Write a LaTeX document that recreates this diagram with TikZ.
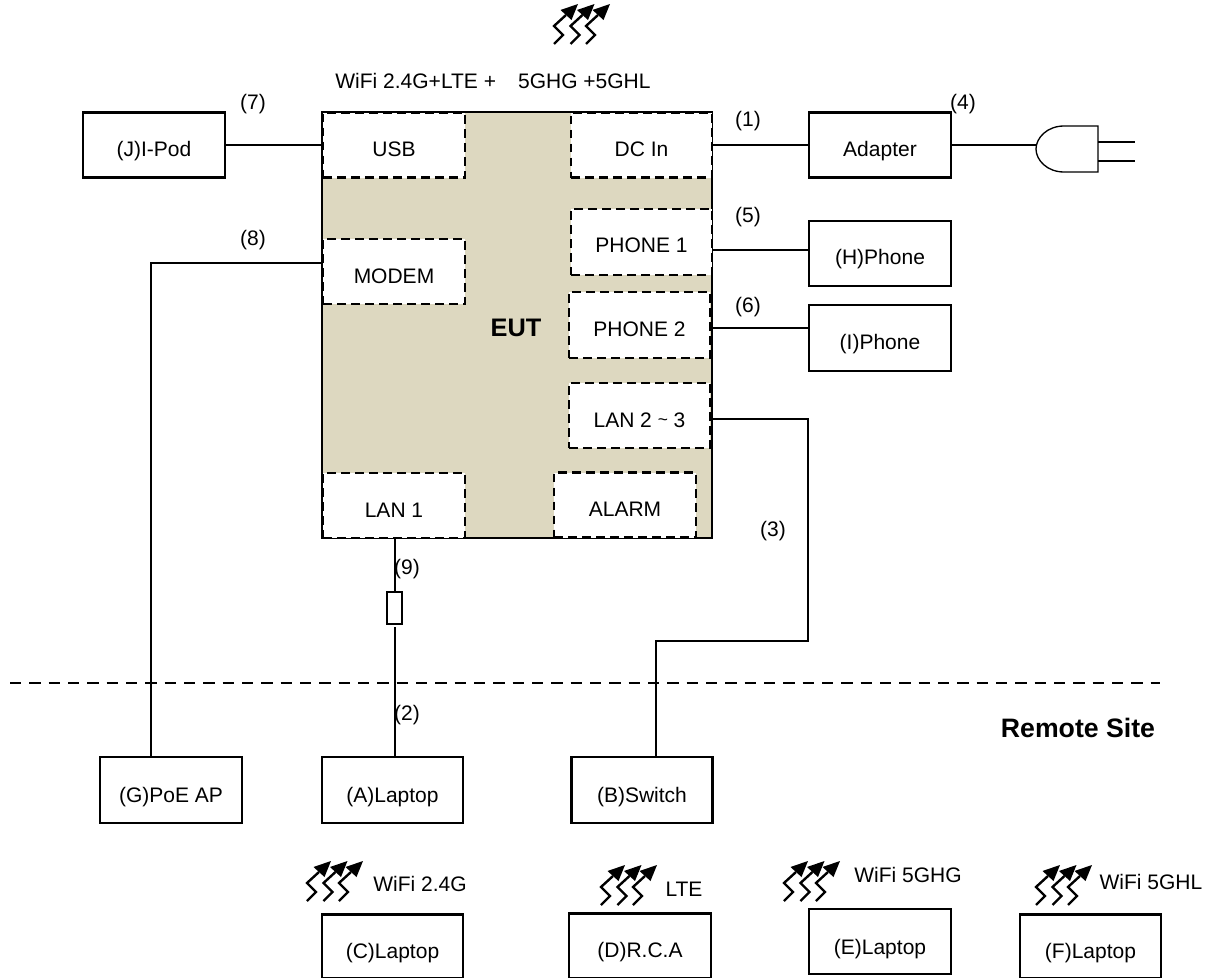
\documentclass[tikz,border=0pt]{standalone}
\usepackage{fontspec}
\setmainfont{Liberation Sans}
\usetikzlibrary{calc}
\newcommand\lowr[2]{\raisebox{-\dimexpr #1pt*3/4\relax}[0pt][0pt]{#2}}
\tikzset{
  sz/.style 2 args={minimum width=#1*0.75pt,minimum height=#2*0.75pt},
  base/.style={inner sep=0pt,outer sep=0pt,align=center,font=\fontsize{15.75}{18}\selectfont},
  solidbox/.style={base,draw=black,line width=1.9pt,fill=white},
  port/.style={base,draw=black,line width=1.6pt,fill=white,dash pattern=on 6.5pt off 4pt},
  lbl/.style={base},
  heavywire/.style={draw=black,line width=1.9pt},
  wire/.style={draw=black,line width=1.5pt},
  lightwire/.style={draw=black,line width=1.2pt},
  thinwire/.style={draw=black,line width=1pt},
  wifisym/.pic={
    \foreach \d in {0,16.5,32}{
      \draw[line width=1.8pt,shift={(\d,0)}] (0,0)--(9,-9)--(0,-18)--(12,-29);
      \fill[shift={(\d,0)}] (24,-40)--(6.5,-34)--(17.5,-24)--cycle;
    }
  }
}
\begin{document}
\begin{tikzpicture}[x=0.75pt,y=-0.75pt]
\useasboundingbox (0,0) rectangle (1215,978);
% main unit
\node[base,draw=black,line width=1.9pt,fill={rgb,255:red,221;green,216;blue,192},sz={390}{426},anchor=north west] (eut) at (322,112) {};
\node[base,font=\fontsize{19}{22}\selectfont\bfseries] (eutl) at (516,328) {EUT};
% ports
\node[port,sz={142}{65}] (usb) at (394,145) {\lowr{11}{USB}};
\node[port,sz={141}{65}] (dc) at (641.5,145) {\lowr{11}{DC In}};
\node[port,sz={142}{65}] (modem) at (394,271.5) {\lowr{11.5}{MODEM}};
\node[port,sz={141}{66}] (ph1) at (641.5,242) {\lowr{10}{PHONE 1}};
\node[port,sz={141}{66}] (ph2) at (639.5,325) {\lowr{11}{PHONE 2}};
\node[port,sz={141}{65}] (lan23) at (639.5,415.5) {\lowr{11.5}{LAN 2 {\fontsize{13}{13}\selectfont\raisebox{1pt}{\textasciitilde}} 3}};
\node[port,sz={142}{65}] (lan1) at (394,505.5) {\lowr{11.5}{LAN 1}};
\node[port,sz={142}{65}] (alarm) at (625,505) {\lowr{11}{ALARM}};
% devices
\node[solidbox,sz={142}{65}] (j) at (154,145) {\lowr{11}{(J)I-Pod}};
\node[solidbox,sz={142}{65}] (adapter) at (880,145) {\lowr{11}{Adapter}};
\node[solidbox,sz={142}{65}] (h) at (880,253.5) {\lowr{10.5}{(H)Phone}};
\node[solidbox,sz={142}{66}] (i) at (880,338) {\lowr{11}{(I)Phone}};
\node[solidbox,sz={142}{66}] (g) at (171,790) {\lowr{12}{(G)PoE AP}};
\node[solidbox,sz={141}{66}] (a) at (392.5,790) {\lowr{12}{(A)Laptop}};
\node[solidbox,sz={141}{66}] (b) at (642,790) {\lowr{12}{(B)Switch}};
\node[solidbox,sz={141}{64.5}] (c) at (392.5,946.5) {\lowr{11.5}{(C)Laptop}};
\node[solidbox,sz={142}{65.5}] (d) at (640,946) {\lowr{11}{(D)R.C.A}};
\node[solidbox,sz={142}{65}] (e) at (880,941.5) {\lowr{12.5}{(E)Laptop}};
\node[solidbox,sz={141}{64.5}] (f) at (1090.5,946.5) {\lowr{11.5}{(F)Laptop}};
% connectors
\draw[heavywire] (j.east) -- (usb.west);
\draw[heavywire] (dc.east) -- (adapter.west);
\coordinate (p1) at (ph1.east |- 0,250);
\draw[wire] (p1) -- (p1 -| h.west);
\coordinate (p2) at (712,328);
\draw[wire] (p2) -- (p2 -| i.west);
\coordinate (m1) at (modem.west |- 0,263);
\coordinate (gt) at (151,0 |- g.north);
\draw[lightwire] (m1) -| (gt);
\coordinate (l2) at (lan23.east |- 0,419);
\coordinate (l3) at (808,641);
\coordinate (bt) at (656,0 |- b.north);
\draw[wire] (l2) -| (l3) -| (bt);
% attenuator
\node[base,draw=black,line width=1.3pt,fill=white,sz={15}{32}] (att) at (394.5,608) {};
\coordinate (lan1b) at (lan1.south -| att.north);
\draw[wire] (lan1b) -- (att.north);
\coordinate (atl) at ($(a.north -| att.south)+(0,-130)$);
\draw[wire] (atl) -- (a.north -| att.south);
% separator
\coordinate (s1) at (10,683);
\coordinate (s2) at (1160,683);
\draw[line width=1.7pt,dash pattern=on 8.5pt off 6pt] (s1) -- (s2);
% plug
\coordinate (pl) at (1036,145);
\draw[thinwire] (adapter.east) -- (pl);
\draw[thinwire] (1098,126) -- (1098,172) -- (1064,172) .. controls (1047,172) and (1036,160) .. (1036,149) .. controls (1036,138) and (1047,126) .. (1064,126) -- cycle;
\coordinate (pr1) at (1098,142); \coordinate (pr1e) at (1135,142);
\coordinate (pr2) at (1098,161); \coordinate (pr2e) at (1135,161);
\draw[thinwire] (pr1) -- (pr1e);
\draw[thinwire] (pr2) -- (pr2e);
% labels
\node[lbl] (n1) at (748,121) {(1)};
\node[lbl] (n2) at (407,715) {(2)};
\node[lbl] (n3) at (773,531) {(3)};
\node[lbl] (n4) at (963,104) {(4)};
\node[lbl] (n5) at (748,217) {(5)};
\node[lbl] (n6) at (748,307) {(6)};
\node[lbl] (n7) at (253,104) {(7)};
\node[lbl] (n8) at (253,240) {(8)};
\node[lbl] (n9) at (407,569) {(9)};
\node[lbl] (top) at (493,81) {WiFi 2.4G+LTE +\hspace{1.05em}5GHG +5GHL};
\node[lbl] (w1) at (420,884) {WiFi 2.4G};
\node[lbl] (w2) at (684,889) {LTE};
\node[lbl] (w3) at (908,875) {WiFi 5GHG};
\node[lbl] (w4) at (1151,882) {WiFi 5GHL};
\node[base,font=\fontsize{20}{22}\selectfont\bfseries] (rs) at (1078,728) {Remote Site};
% wireless symbols
\pic at (554,44) {wifisym};
\pic at (307,901) {wifisym};
\pic at (601,905) {wifisym};
\pic at (784,901) {wifisym};
\pic at (1036,905) {wifisym};
\end{tikzpicture}
\end{document}
